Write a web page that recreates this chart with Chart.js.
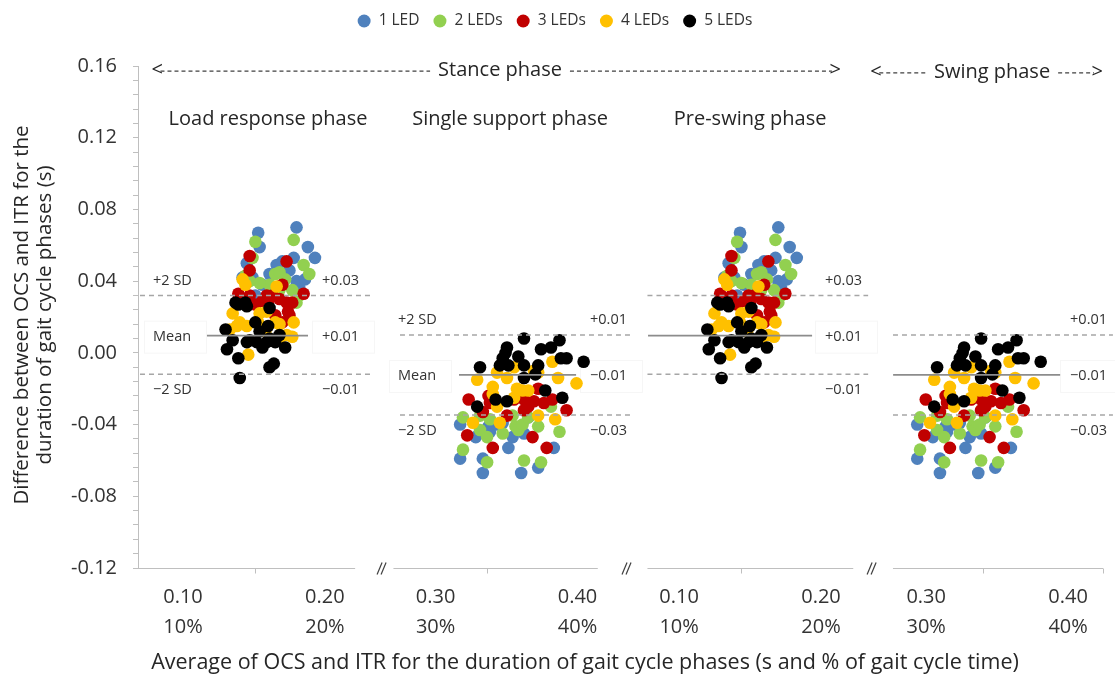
<!DOCTYPE html>
<html>
<head>
<meta charset="utf-8">
<script src="https://cdn.jsdelivr.net/npm/chart.js@4.4.0/dist/chart.umd.min.js"></script>
<style>
  html, body { margin: 0; padding: 0; background: #fff; }
</style>
</head>
<body>
<canvas id="gaitChart" width="1115" height="677"></canvas>
<script>
'use strict';

const FONT = '"Open Sans", "Noto Sans", sans-serif';
const TEXT = '#333333';

const groupLabels = ['1 LED', '2 LEDs', '3 LEDs', '4 LEDs', '5 LEDs'];
const groupColors = ['#4F81BD', '#92D050', '#C00000', '#FFC000', '#000000'];

// load response phase (also shown for pre-swing) — [average (s), difference (s)]
const loadLed1 = [[0.153,0.067],[0.180,0.070],[0.154,0.059],[0.188,0.059],[0.193,0.053],[0.178,0.053],[0.145,0.050],[0.166,0.049],[0.170,0.051],[0.175,0.046],[0.142,0.042],[0.149,0.042],[0.182,0.036],[0.180,0.040],[0.161,0.044],[0.156,0.038],[0.186,0.041],[0.151,0.032]];
const loadLed2 = [[0.151,0.062],[0.178,0.063],[0.185,0.049],[0.189,0.044],[0.149,0.053],[0.165,0.044],[0.168,0.045],[0.172,0.041],[0.161,0.038],[0.177,0.035],[0.180,0.028],[0.147,0.040],[0.154,0.039],[0.168,0.035],[0.182,0.032],[0.144,0.043]];
const loadLed3 = [[0.147,0.054],[0.147,0.046],[0.173,0.051],[0.170,0.038],[0.185,0.033],[0.139,0.033],[0.147,0.032],[0.159,0.032],[0.156,0.029],[0.163,0.032],[0.168,0.030],[0.173,0.028],[0.177,0.028],[0.174,0.023],[0.175,0.021],[0.165,0.021],[0.170,0.017],[0.151,0.027],[0.160,0.028]];
const loadLed4 = [[0.142,0.041],[0.144,0.038],[0.166,0.037],[0.135,0.022],[0.140,0.017],[0.145,0.015],[0.133,0.013],[0.138,0.015],[0.154,0.022],[0.159,0.023],[0.153,0.017],[0.165,0.017],[0.168,0.016],[0.178,0.017],[0.173,0.010],[0.168,0.008],[0.158,0.012],[0.146,-0.001],[0.177,0.009]];
const loadLed5 = [[0.137,0.028],[0.144,0.028],[0.145,0.026],[0.139,0.027],[0.161,0.025],[0.151,0.017],[0.130,0.013],[0.135,0.007],[0.131,0.002],[0.139,-0.003],[0.145,0.006],[0.147,0.007],[0.154,0.012],[0.160,0.015],[0.161,0.008],[0.159,0.006],[0.165,0.006],[0.172,0.003],[0.168,0.010],[0.161,-0.008],[0.164,-0.006],[0.140,-0.014],[0.152,0.006],[0.156,0.003]];

// single support phase (also shown for swing)
const supportLed1 = [[0.317,-0.040],[0.328,-0.047],[0.337,-0.041],[0.338,-0.044],[0.354,-0.047],[0.362,-0.045],[0.351,-0.053],[0.317,-0.059],[0.333,-0.059],[0.333,-0.067],[0.360,-0.067],[0.372,-0.064],[0.383,-0.053],[0.343,-0.040],[0.365,-0.036],[0.347,-0.039]];
const supportLed2 = [[0.319,-0.036],[0.331,-0.043],[0.336,-0.047],[0.347,-0.045],[0.356,-0.041],[0.358,-0.043],[0.361,-0.040],[0.372,-0.041],[0.387,-0.044],[0.319,-0.054],[0.336,-0.061],[0.362,-0.060],[0.374,-0.061],[0.381,-0.030],[0.331,-0.035],[0.338,-0.037],[0.354,-0.035],[0.365,-0.036]];
const supportLed3 = [[0.323,-0.026],[0.337,-0.024],[0.338,-0.028],[0.355,-0.026],[0.362,-0.026],[0.362,-0.032],[0.369,-0.027],[0.376,-0.028],[0.382,-0.026],[0.392,-0.032],[0.372,-0.020],[0.350,-0.035],[0.322,-0.046],[0.340,-0.053],[0.368,-0.047],[0.378,-0.053],[0.365,-0.030],[0.333,-0.033]];
const supportLed4 = [[0.329,-0.015],[0.343,-0.011],[0.355,-0.008],[0.350,-0.014],[0.340,-0.019],[0.340,-0.023],[0.357,-0.020],[0.361,-0.021],[0.365,-0.021],[0.369,-0.010],[0.372,-0.011],[0.382,-0.005],[0.386,-0.014],[0.399,-0.017],[0.384,-0.037],[0.345,-0.039],[0.326,-0.039],[0.372,-0.035],[0.355,-0.025],[0.343,-0.030]];
const supportLed5 = [[0.362,0.008],[0.350,0.003],[0.387,0.007],[0.381,0.003],[0.374,0.002],[0.349,0.000],[0.347,-0.003],[0.358,-0.002],[0.388,-0.003],[0.392,-0.003],[0.404,-0.005],[0.331,-0.008],[0.351,-0.007],[0.362,-0.007],[0.372,-0.007],[0.345,-0.007],[0.362,-0.014],[0.370,-0.012],[0.377,-0.021],[0.389,-0.025],[0.342,-0.026],[0.350,-0.027],[0.329,-0.030]];

const loadSets = [loadLed1, loadLed2, loadLed3, loadLed4, loadLed5];
const supportSets = [supportLed1, supportLed2, supportLed3, supportLed4, supportLed5];

// per panel: load response, single support, pre-swing, swing
const panelTitles = ['Load response phase', 'Single support phase', 'Pre-swing phase', ''];
const upperSD = [0.032, 0.010, 0.032, 0.010];
const meanDiff = [0.0096, -0.0123, 0.0096, -0.0123];
const lowerSD = [-0.012, -0.0346, -0.012, -0.0346];
const upperText = ['+0.03', '+0.01', '+0.03', '+0.01'];
const meanText = ['+0.01', '\u22120.01', '+0.01', '\u22120.01'];
const lowerText = ['\u22120.01', '\u22120.03', '\u22120.01', '\u22120.03'];
const xTickValues = [[0.10, 0.20], [0.30, 0.40], [0.10, 0.20], [0.30, 0.40]];
const yMajorTicks = [-0.12, -0.08, -0.04, 0.00, 0.04, 0.08, 0.12, 0.16];

// ── layout of the four panels on one shared (broken) x axis
const X_MAX = 0.68;
const dataShift = [-0.0683, -0.0900, 0.2712, 0.2321];
const labelShift = [-0.0683, -0.0903, 0.2813, 0.2554];
const axisSpan = [[0, 0.153], [0.180, 0.324], [0.359, 0.504], [0.532, 0.680]];
const dashSpan = [[0.0014, 0.165], [0.1846, 0.348], [0.359, 0.5145], [0.532, 0.687]];
const meanSpan = [[0.0486, 0.1198], [0.2262, 0.3087], [0.3594, 0.4750], [0.5321, 0.6498]];
const leftLabelAt = [0.0106, 0.1832, null, null];
const rightLabelAt = [0.1297, 0.3185, 0.4841, 0.6568];
const titleAt = [0.0916, 0.2622, 0.4313, null];
const axisTickAt = [0.0825, 0.2459, 0.4249, 0.5955, 0.68];
const breakAt = [0.1727, 0.3453, 0.5180];

const panelSource = [loadSets, supportSets, loadSets, supportSets];

const xTicks = [];
const xTickText = [];
xTickValues.forEach((vals, p) => vals.forEach(v => {
    xTicks.push(v + labelShift[p]);
    xTickText.push([v.toFixed(2), Math.round(v * 100) + '%']);
}));

const datasets = groupLabels.map((label, g) => ({
    label,
    data: panelSource.flatMap((src, p) => src[g].map(pt => ({ x: pt[0] + dataShift[p], y: pt[1] }))),
    backgroundColor: groupColors[g],
    borderWidth: 0,
    pointRadius: 6.3,
    pointHoverRadius: 6.3,
    order: groupLabels.length - g
}));

function seg(ctx, x1, y1, x2, y2) {
    ctx.beginPath();
    ctx.moveTo(x1, y1);
    ctx.lineTo(x2, y2);
    ctx.stroke();
}

function labelBox(ctx, x, y, w) {
    ctx.fillStyle = '#ffffff';
    ctx.strokeStyle = '#f6f6f6';
    ctx.lineWidth = 1;
    ctx.fillRect(x, y - 16, w, 32);
    ctx.strokeRect(x + 0.5, y - 15.5, w, 32);
}

const overlayPlugin = {
    id: 'gaitOverlay',
    beforeDatasetsDraw(chart) {
        // faint text boxes behind the mean labels
        const { ctx, scales: { x, y } } = chart;
        ctx.save();
        for (let p = 0; p < 4; p++) {
            const ym = y.getPixelForValue(meanDiff[p]) + 1;
            if (leftLabelAt[p] !== null) labelBox(ctx, x.getPixelForValue(leftLabelAt[p]) - 9, ym, 62);
            labelBox(ctx, x.getPixelForValue(rightLabelAt[p]) - 10, ym, 62);
        }
        ctx.restore();
    },
    afterDraw(chart) {
        const { ctx, scales: { x, y } } = chart;
        const px = v => x.getPixelForValue(v);
        const py = v => y.getPixelForValue(v);
        ctx.save();

        // broken x axis
        ctx.strokeStyle = '#bfbfbf';
        ctx.lineWidth = 1;
        const base = Math.round(y.bottom) + 0.5;
        axisSpan.forEach(([a, b]) => seg(ctx, px(a), base, px(b), base));
        axisTickAt.forEach(v => seg(ctx, Math.round(px(v)) + 0.5, base, Math.round(px(v)) + 0.5, base + 5));
        ctx.strokeStyle = '#404040';
        ctx.lineWidth = 1.2;
        breakAt.forEach(v => {
            const c = px(v);
            seg(ctx, c - 6, base + 6, c - 1, base - 6);
            seg(ctx, c - 2, base + 6, c + 3, base - 6);
        });

        // limits of agreement and mean difference
        for (let p = 0; p < 4; p++) {
            ctx.strokeStyle = '#a6a6a6';
            ctx.lineWidth = 1.5;
            ctx.setLineDash([5, 4]);
            seg(ctx, px(dashSpan[p][0]), py(upperSD[p]), px(dashSpan[p][1]), py(upperSD[p]));
            seg(ctx, px(dashSpan[p][0]), py(lowerSD[p]), px(dashSpan[p][1]), py(lowerSD[p]));
            ctx.setLineDash([]);
            ctx.strokeStyle = '#8c8c8c';
            ctx.lineWidth = 1.8;
            seg(ctx, px(meanSpan[p][0]), py(meanDiff[p]), px(meanSpan[p][1]), py(meanDiff[p]));
        }

        ctx.font = '14.5px ' + FONT;
        ctx.textBaseline = 'middle';
        ctx.textAlign = 'left';
        ctx.fillStyle = TEXT;
        for (let p = 0; p < 4; p++) {
            const yu = py(upperSD[p]) - 15;
            const ym = py(meanDiff[p]) + 1;
            const yl = py(lowerSD[p]) + 16;
            if (leftLabelAt[p] !== null) {
                const lx = px(leftLabelAt[p]);
                ctx.fillText('+2 SD', lx, yu);
                ctx.fillText('Mean', lx, ym);
                ctx.fillText('\u22122 SD', lx, yl);
            }
            const rx = px(rightLabelAt[p]);
            ctx.fillText(upperText[p], rx, yu);
            ctx.fillText(meanText[p], rx, ym);
            ctx.fillText(lowerText[p], rx, yl);
        }

        // phase titles
        ctx.fillStyle = '#262626';
        ctx.font = '20px ' + FONT;
        ctx.textAlign = 'center';
        titleAt.forEach((v, p) => { if (v !== null) ctx.fillText(panelTitles[p], px(v), py(0.13)); });

        // stance / swing spans with dashed arrows
        const arrowSpan = (from, to, centre, text, yv) => {
            const yy = py(yv);
            const w = ctx.measureText(text).width;
            const c = px(centre);
            ctx.fillText(text, c, yy);
            ctx.textAlign = 'left';
            ctx.fillText('<', px(from), yy);
            ctx.textAlign = 'right';
            ctx.fillText('>', px(to), yy);
            ctx.textAlign = 'center';
            ctx.strokeStyle = '#404040';
            ctx.lineWidth = 1.2;
            ctx.setLineDash([4, 3]);
            seg(ctx, px(from) + 9, yy + 1, c - w / 2 - 8, yy + 1);
            seg(ctx, c + w / 2 + 8, yy + 1, px(to) - 9, yy + 1);
            ctx.setLineDash([]);
        };
        arrowSpan(0.0095, 0.4953, 0.2551, 'Stance phase', 0.1577);
        arrowSpan(0.5160, 0.6800, 0.6018, 'Swing phase', 0.1567);

        // axis titles
        ctx.fillStyle = '#262626';
        ctx.font = '21.5px ' + FONT;
        ctx.textAlign = 'center';
        ctx.fillText('Average of OCS and ITR for the duration of gait cycle phases (s and % of gait cycle time)', 585, 663);
        ctx.save();
        ctx.font = '20.5px ' + FONT;
        ctx.translate(33, 315);
        ctx.rotate(-Math.PI / 2);
        ctx.fillText('Difference between OCS and ITR for the', 0, -11);
        ctx.fillText('duration of gait cycle phases (s)', 0, 12);
        ctx.restore();

        // legend
        ctx.font = '15.5px ' + FONT;
        ctx.textAlign = 'left';
        const widths = groupLabels.map(l => 21 + ctx.measureText(l).width);
        const total = widths.reduce((a, b) => a + b, 0) + 14 * (widths.length - 1);
        let lx = 555 - total / 2;
        groupLabels.forEach((l, g) => {
            ctx.fillStyle = groupColors[g];
            ctx.beginPath();
            ctx.arc(lx + 6.5, 21, 6.5, 0, Math.PI * 2);
            ctx.fill();
            ctx.fillStyle = TEXT;
            ctx.fillText(l, lx + 21, 21);
            lx += widths[g] + 14;
        });

        ctx.restore();
    }
};

new Chart(document.getElementById('gaitChart'), {
    type: 'scatter',
    data: { datasets },
    options: {
        responsive: false,
        animation: false,
        devicePixelRatio: 1,
        layout: { padding: { top: 66, right: 12, bottom: 0, left: 0 } },
        plugins: {
            legend: { display: false },
            tooltip: { enabled: false }
        },
        scales: {
            x: {
                type: 'linear',
                min: 0,
                max: X_MAX,
                afterBuildTicks: scale => { scale.ticks = xTicks.map(v => ({ value: v })); },
                afterFit: scale => { scale.height = 109; },
                grid: { display: false, drawTicks: false },
                border: { display: false },
                ticks: {
                    autoSkip: false,
                    maxRotation: 0,
                    padding: 14,
                    color: TEXT,
                    font: { family: FONT, size: 20, lineHeight: 1.5 },
                    callback: (value, index) => xTickText[index]
                }
            },
            y: {
                min: -0.12,
                max: 0.16,
                afterBuildTicks: scale => {
                    const ticks = [];
                    for (let i = 0; i <= 35; i++) ticks.push({ value: +(-0.12 + i * 0.008).toFixed(3) });
                    scale.ticks = ticks;
                },
                afterFit: scale => { scale.width = 138; },
                grid: { drawOnChartArea: false, tickLength: 5, color: '#bfbfbf' },
                border: { display: true, color: '#bfbfbf' },
                ticks: {
                    autoSkip: false,
                    padding: 16,
                    color: TEXT,
                    font: { family: FONT, size: 20 },
                    callback: value => {
                        const major = yMajorTicks.find(t => Math.abs(t - value) < 1e-6);
                        return major === undefined ? '' : major.toFixed(2);
                    }
                }
            }
        }
    },
    plugins: [overlayPlugin]
});
</script>
</body>
</html>
